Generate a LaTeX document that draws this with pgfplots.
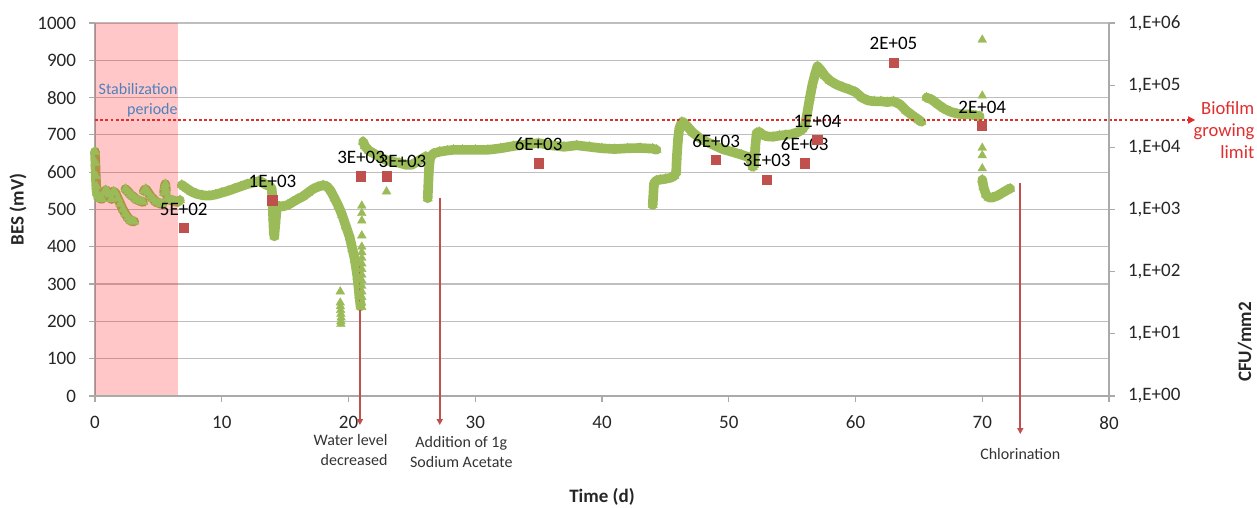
\documentclass[border=0pt]{standalone}
\usepackage{fontspec}
\setmainfont{Carlito}
\usepackage{pgfplots}
\pgfplotsset{compat=1.18}
\usetikzlibrary{arrows.meta}

\definecolor{besgreen}{RGB}{155,187,89}
\definecolor{cfured}{RGB}{192,80,77}
\definecolor{gridgray}{RGB}{190,190,190}
\definecolor{axgray}{RGB}{170,170,170}
\definecolor{stabblue}{RGB}{79,129,189}
\definecolor{limitred}{RGB}{225,45,45}

\pgfplotsset{
  bes/.style={besgreen, line width=4.8pt, line join=round, line cap=round,
    mark=triangle*, mark size=2.7pt,
    mark options={solid, line width=0.2pt, fill=besgreen, draw=besgreen}},
  besdots/.style={besgreen, only marks, mark=triangle*, mark size=2.5pt,
    mark options={line width=0.2pt, fill=besgreen, draw=besgreen}},
  frame/.style={
    at={(0,0)}, anchor=south west,
    scale only axis, width=507pt, height=186.5pt,
    xmin=0, xmax=80, clip=false,
    axis line style={axgray, line width=0.6pt},
    tick align=outside, major tick length=3pt,
    tick style={axgray, line width=0.6pt},
    ticklabel style={font=\fontsize{9.5}{11}\selectfont, text=black!85},
    label style={font=\fontsize{9.5}{11}\selectfont\bfseries, text=black!85},
  },
}

\begin{document}
\begin{tikzpicture}
\useasboundingbox (-47.5pt,-56pt) rectangle (581pt,198pt);

% ---------------- BES potential (left axis) ----------------
\begin{axis}[frame,
  ymin=0, ymax=1000,
  xtick={0,10,...,80}, ytick={0,100,...,1000},
  axis x line*=bottom, axis y line*=left,
  ymajorgrids, grid style={gridgray, line width=0.6pt},
  xticklabel style={yshift=-3.5pt},
  yticklabel style={xshift=-3pt},
  /pgf/number format/assume math mode=true,
  /pgf/number format/1000 sep={},
  xlabel={Time (d)}, ylabel={BES (mV)},
  xlabel style={at={(axis description cs:0.5,-0.271)}, anchor=center},
  ylabel style={at={(axis description cs:-0.076,0.5)}, anchor=center},
]
% start-up period
\addplot[bes] coordinates {(0.00,655)(0.03,625)(0.06,590)(0.10,562)(0.15,545)(0.25,535)(0.40,530)(0.55,528)(0.70,545)(0.85,552)(1.00,548)(1.15,540)(1.30,528)(1.45,548)(1.60,545)(1.80,530)(2.00,515)(2.20,500)(2.40,488)(2.60,478)(2.80,470)(3.00,468)(3.10,468)};
\addplot[bes] coordinates {(2.40,555)(2.60,548)(2.80,540)(3.00,535)(3.20,528)(3.40,525)(3.60,522)(3.80,520)};
\addplot[bes] coordinates {(3.85,550)(4.00,555)(4.20,545)(4.40,535)(4.60,528)(4.80,520)(5.00,518)(5.20,515)(5.30,515)};
\addplot[bes] coordinates {(5.45,545)(5.50,560)(5.55,568)(5.60,550)};
\addplot[bes] coordinates {(5.70,530)(5.90,525)(6.10,525)(6.30,522)(6.50,520)(6.70,525)};
% days 7 to 21
\addplot[bes] coordinates {(6.85,566)(7.0,562)(7.3,555)(7.6,548)(8.0,542)(8.5,538)(9.0,537)(9.5,540)(10.0,545)(10.5,550)(11.0,556)(11.5,562)(12.0,568)(12.5,572)(12.9,576)(13.2,573)(13.5,566)(13.8,563)(13.95,555)(14.0,520)(14.05,480)(14.1,440)(14.15,428)(14.25,470)(14.35,505)};
\addplot[bes] coordinates {(14.4,510)(14.8,508)(15.2,512)(15.6,520)(16.0,528)(16.4,535)(16.8,545)(17.2,555)(17.6,561)(18.0,565)(18.3,562)(18.6,550)(18.9,530)(19.2,510)(19.5,485)(19.8,455)(20.1,425)(20.3,395)(20.5,365)(20.7,320)(20.85,270)(20.95,240)};
\addplot[besdots] coordinates {(19.35,280)(19.35,250)(19.36,240)(19.38,230)(19.40,220)(19.42,210)(19.40,200)(19.40,193)};
\addplot[besdots] coordinates {(21.05,510)(21.05,490)(21.05,470)(21.05,430)(21.05,400)(21.05,385)(21.05,370)(21.05,355)(21.05,340)(21.05,325)(21.05,310)(21.05,295)(21.05,280)(21.05,265)(21.05,250)(21.05,238)};
% days 21 to 44
\addplot[bes] coordinates {(21.15,682)(21.3,670)(21.6,658)(22.0,650)(22.5,640)(23.0,632)(23.5,628)(24.0,625)(24.5,620)(25.0,620)(25.5,630)(26.0,640)(26.1,642)};
\addplot[besdots] coordinates {(23.0,548)};
\addplot[bes] coordinates {(26.25,530)(26.3,570)(26.35,610)(26.45,640)(26.7,650)(27.2,655)(27.8,658)(28.3,660)(29,660)(30,660)(31,660)(32,664)(33,670)(34,675)(35,678)(36,672)(37,668)(38,672)(39,668)(40,664)(41,662)(42,664)(43,665)(44,663)(44.3,660)};
% days 44 to 52
\addplot[bes] coordinates {(44.0,512)(44.05,540)(44.1,570)(44.3,578)(44.6,580)(45.0,582)(45.4,585)(45.7,590)(45.85,600)(45.9,640)(46.0,690)(46.1,718)(46.3,735)(46.5,732)(46.8,720)(47.2,705)(47.7,692)(48.2,682)(48.8,673)(49.5,662)(50.3,654)(51.0,647)(51.6,640)(51.8,625)(51.9,614)};
% days 52 to 65
\addplot[bes] coordinates {(52.0,620)(52.1,670)(52.2,705)(52.4,708)(52.7,700)(53.0,696)(53.5,695)(54.0,698)(54.5,700)(55.0,702)(55.5,708)(55.8,715)(56.0,725)(56.2,760)(56.4,800)(56.6,835)(56.8,862)(57.0,884)(57.3,872)(57.6,858)(58.0,845)(58.5,835)(59.0,828)(59.5,822)(60.0,815)(60.5,800)(61.0,792)(61.5,790)(62.0,790)(62.5,788)(63.0,790)(63.5,782)(64.0,765)(64.5,752)(65.0,740)(65.2,735)};
% days 65 to 72
\addplot[bes] coordinates {(65.6,800)(66.0,795)(66.5,782)(67.0,770)(67.5,762)(68.0,757)(68.5,755)(69.0,755)(69.5,752)(69.8,750)};
\addplot[besdots] coordinates {(70.0,955)(70.0,805)(70.0,665)(70.0,645)(70.0,610)};
\addplot[bes] coordinates {(70.0,580)(70.1,560)(70.3,540)(70.5,532)(70.8,532)(71.2,537)(71.6,545)(72.0,553)(72.2,556)};

% stabilization period shading
\addplot[draw=none, fill=red, fill opacity=0.22] coordinates {(0,4)(6.55,4)(6.55,1000)(0,1000)} -- cycle;
\node[stabblue, align=right, anchor=east, inner sep=0pt,
  font=\fontsize{8}{10}\selectfont] at (axis cs:6.55,793) {Stabilization\\periode};

% biofilm growing limit
\draw[limitred, line width=0.6pt, dash pattern=on 1.4pt off 1.2pt,
  -{Triangle[length=3.5pt,width=3.5pt]}] (axis cs:0,740) -- (axis cs:86.8,740);
\node[limitred, align=right, anchor=east, inner sep=0pt,
  font=\fontsize{9.3}{11}\selectfont] at (axis cs:91.5,713) {Biofilm\\growing\\limit};

% events
\draw[cfured, line width=0.9pt, -{Triangle[length=3pt,width=3pt]}]
  (axis cs:20.9,351) -- (axis cs:20.9,-78);
\draw[cfured, line width=0.9pt, -{Triangle[length=3pt,width=3pt]}]
  (axis cs:27.2,531) -- (axis cs:27.2,-78);
\draw[cfured, line width=0.9pt, -{Triangle[length=3pt,width=3pt]}]
  (axis cs:73.0,571) -- (axis cs:73.0,-102);
\node[align=right, anchor=east, inner sep=0pt, text=black!80,
  font=\fontsize{8}{10}\selectfont] at (axis cs:23.1,-145) {Water level\\decreased};
\node[align=center, inner sep=0pt, text=black!80,
  font=\fontsize{8}{10}\selectfont] at (axis cs:28.9,-150) {Addition of 1g\\Sodium Acetate};
\node[inner sep=0pt, text=black!80,
  font=\fontsize{8}{10}\selectfont] at (axis cs:73.0,-155) {Chlorination};
\end{axis}

% ---------------- biofilm counts (right axis) ----------------
\begin{axis}[frame,
  ymode=log, ymin=1, ymax=1e6,
  axis x line=none, axis y line*=right,
  ytick={1,10,100,1000,10000,100000,1000000},
  yticklabels={{1,E+00},{1,E+01},{1,E+02},{1,E+03},{1,E+04},{1,E+05},{1,E+06}},
  yticklabel style={xshift=3pt},
  yminorticks=false,
  ylabel={CFU/mm2},
  ylabel style={at={(axis description cs:1.134,0.145)}, anchor=center},
]
\addplot[only marks, mark=square*, mark size=2.3pt, cfured,
  point meta=explicit symbolic, nodes near coords,
  every node near coord/.style={anchor=center, yshift=9.5pt, text=black,
    font=\fontsize{9.5}{11}\selectfont}]
  table[meta=label] {
x y label
7 500 5E+02
14 1400 1E+03
21 3400 3E+03
35 5500 6E+03
49 6300 6E+03
53 3000 3E+03
56 5500 6E+03
57 13000 1E+04
63 230000 2E+05
70 22000 2E+04
};
\addplot[only marks, mark=square*, mark size=2.3pt, cfured,
  point meta=explicit symbolic, nodes near coords,
  every node near coord/.style={anchor=center, xshift=8pt, yshift=7.3pt, text=black,
    font=\fontsize{9.5}{11}\selectfont}]
  table[meta=label] {
x y label
23 3400 3E+03
};
\end{axis}
\end{tikzpicture}
\end{document}
